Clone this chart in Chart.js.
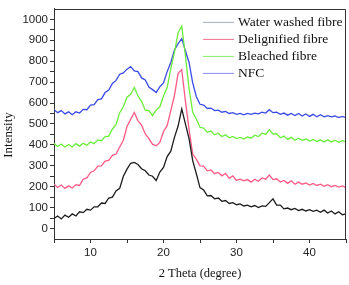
<!DOCTYPE html>
<html>
<head>
<meta charset="utf-8">
<script src="https://cdn.jsdelivr.net/npm/chart.js@4"></script>
<style>
  html, body { margin: 0; padding: 0; background: #fff; }
  #area { width: 349px; height: 285px; }
</style>
</head>
<body>
<div id="area"><canvas id="grafico"></canvas></div>
<script>
// 2 Theta (graus) - eixo x
const theta = [
  5, 5.5, 6, 6.5, 7, 7.5, 8, 8.5, 9, 9.5,
  10, 10.5, 11, 11.5, 12, 12.5, 13, 13.5, 14, 14.5,
  15, 15.5, 16, 16.5, 17, 17.5, 18, 18.5, 19, 19.5,
  20, 20.5, 21, 21.5, 22, 22.5, 23, 23.5, 24, 24.5,
  25, 25.5, 26, 26.5, 27, 27.5, 28, 28.5, 29, 29.5,
  30, 30.5, 31, 31.5, 32, 32.5, 33, 33.5, 34, 34.5,
  35, 35.5, 36, 36.5, 37, 37.5, 38, 38.5, 39, 39.5,
  40, 40.5, 41, 41.5, 42, 42.5, 43, 43.5, 44, 44.5,
  45
]

// Intensidades (com o ruído aproximado)
const waterWashed = [
  48, 60, 46, 64, 54, 70, 60, 80, 76, 92,
  88, 104, 104, 122, 120, 146, 150, 180, 192, 250,
  284, 312, 316, 306, 286, 276, 256, 250, 230, 270,
  292, 344, 370, 436, 490, 572, 500, 430, 325, 262,
  196, 184, 156, 158, 142, 146, 130, 134, 120, 124,
  114, 118, 108, 112, 104, 110, 100, 108, 106, 124,
  142, 112, 112, 94, 98, 90, 96, 86, 92, 84,
  90, 82, 88, 78, 88, 74, 84, 70, 80, 66,
  70
]
const delignified = [
  212, 196, 208, 192, 204, 194, 210, 206, 236, 242,
  268, 276, 298, 300, 322, 326, 350, 356, 390, 422,
  488, 522, 555, 515, 494, 452, 430, 402, 396, 412,
  464, 492, 564, 636, 742, 760, 610, 475, 356, 332,
  300, 298, 276, 280, 262, 268, 252, 264, 240, 252,
  230, 236, 228, 234, 222, 236, 226, 242, 236, 256,
  234, 238, 222, 230, 216, 228, 212, 222, 212, 218,
  208, 216, 206, 212, 202, 210, 200, 206, 198, 204,
  196
]
const bleached = [
  406, 392, 404, 390, 402, 390, 406, 394, 408, 398,
  414, 406, 424, 420, 440, 442, 476, 496, 554, 582,
  628, 642, 674, 634, 608, 566, 564, 540, 566, 582,
  634, 674, 764, 842, 936, 968, 826, 670, 556, 524,
  484, 480, 460, 466, 448, 456, 440, 448, 434, 440,
  430, 436, 428, 438, 432, 446, 440, 456, 450, 472,
  452, 454, 434, 442, 426, 436, 422, 432, 422, 428,
  418, 426, 416, 424, 414, 424, 414, 422, 412, 420,
  414
]
const nfc = [
  568, 554, 564, 548, 558, 544, 558, 552, 570, 568,
  590, 592, 616, 620, 650, 662, 694, 708, 738, 744,
  762, 774, 754, 750, 720, 710, 676, 664, 650, 678,
  696, 750, 794, 854, 884, 908, 850, 794, 696, 630,
  594, 590, 574, 576, 564, 566, 556, 560, 550, 554,
  546, 550, 544, 550, 546, 552, 548, 556, 552, 568,
  554, 556, 546, 552, 542, 550, 540, 550, 538, 548,
  536, 546, 534, 544, 534, 540, 534, 538, 530, 536,
  530
]

const nomesSeries = ["Water washed fibre", "Delignified fibre", "Bleached fibre", "NFC"]
const yTicks = [0, 100, 200, 300, 400, 500, 600, 700, 800, 900, 1000]
const xTicks = [10, 20, 30, 40]

const coresLinha = ["#1c1c1c", "#ff5a86", "#6aec3a", "#3a4ae6"]
const coresLegenda = ["#a0acbc", "#f0708f", "#86ee62", "#8a8cec"]

function pontos(valores) {
    let lista = []
    for (let i = 0; i < theta.length; i++) {
        lista.push({ x: theta[i], y: valores[i] })
    }
    return lista
}

// Legenda desenhada dentro da área do gráfico, no canto superior direito
const legendaInterna = {
    id: "legendaInterna",
    afterDraw(chart) {
        const ctx = chart.ctx
        const area = chart.chartArea
        ctx.save()
        // moldura (topo e direita)
        ctx.strokeStyle = "#333"
        ctx.lineWidth = 1
        ctx.beginPath()
        ctx.moveTo(Math.round(area.left) + 0.5, Math.round(area.top) + 0.5)
        ctx.lineTo(Math.round(area.right) - 0.5, Math.round(area.top) + 0.5)
        ctx.lineTo(Math.round(area.right) - 0.5, Math.round(area.bottom))
        ctx.stroke()

        ctx.font = "13.5px 'Liberation Serif'"
        ctx.textBaseline = "middle"
        ctx.fillStyle = "#111"
        chart.data.datasets.forEach(function (ds, i) {
            const y = area.top + 13 + i * 17
            const x0 = area.right - 143
            ctx.strokeStyle = coresLegenda[i]
            ctx.lineWidth = 1
            ctx.beginPath()
            ctx.moveTo(x0, y + 0.5)
            ctx.lineTo(x0 + 31, y + 0.5)
            ctx.stroke()
            ctx.fillText(ds.label, x0 + 35, y + 1)
        })

        // título do eixo y
        ctx.translate(9, 135)
        ctx.rotate(-Math.PI / 2)
        ctx.textAlign = "center"
        ctx.font = "13px 'Liberation Serif'"
        ctx.fillText("Intensity", 0, 0)
        ctx.restore()
    }
}

const series = [waterWashed, delignified, bleached, nfc]
const datasets = series.map(function (valores, i) {
    return {
        label: nomesSeries[i],
        data: pontos(valores),
        borderColor: coresLinha[i],
        borderWidth: 1.3,
        pointRadius: 0,
        tension: 0,
        fill: false
    }
})

Chart.defaults.font.family = "'Liberation Sans', Arial, sans-serif"
Chart.defaults.color = "#222"

const ctx = document.getElementById("grafico").getContext("2d")
new Chart(ctx, {
    type: "line",
    data: { datasets: datasets },
    options: {
        responsive: true,
        maintainAspectRatio: false,
        animation: false,
        layout: { padding: { top: 2, right: 3, left: 0, bottom: 0 } },
        plugins: {
            legend: { display: false },
            tooltip: { enabled: false }
        },
        scales: {
            x: {
                type: "linear",
                min: 5,
                max: 45,
                afterFit: function (scale) { scale.height = 46 },
                ticks: {
                    stepSize: 5,
                    autoSkip: false,
                    maxRotation: 0,
                    padding: 3,
                    font: { size: 11.5 },
                    callback: function (value) {
                        return xTicks.includes(value) ? String(value) : ""
                    }
                },
                grid: { drawOnChartArea: false, drawTicks: true, tickLength: 4, tickColor: "#333" },
                border: { color: "#333", width: 1 },
                title: {
                    display: true,
                    text: "2 Theta (degree)",
                    font: { family: "'Liberation Serif'", size: 12.5 },
                    color: "#111",
                    padding: { top: 0, bottom: 4 }
                }
            },
            y: {
                type: "linear",
                min: -50,
                max: 1050,
                afterFit: function (scale) { scale.width = 54 },
                ticks: {
                    stepSize: 50,
                    includeBounds: false,
                    autoSkip: false,
                    padding: 2,
                    font: { size: 11.5 },
                    callback: function (value) {
                        return yTicks.includes(value) ? String(value) : ""
                    }
                },
                grid: {
                    drawOnChartArea: false,
                    drawTicks: true,
                    tickLength: 4,
                    tickColor: function (c) {
                        return (c.tick && (c.tick.value < 0 || c.tick.value > 1000)) ? "rgba(0,0,0,0)" : "#333"
                    }
                },
                border: { color: "#333", width: 1 }
            }
        }
    },
    plugins: [legendaInterna]
})
</script>
</body>
</html>
